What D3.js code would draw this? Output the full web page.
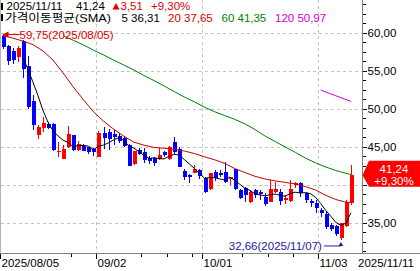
<!DOCTYPE html>
<html>
<head>
<meta charset="utf-8">
<script src="https://cdn.jsdelivr.net/npm/d3@7"></script>
<style>
body { margin: 0; background: #fff; }
svg { display: block; font-family: 'Liberation Sans', 'Noto Sans CJK KR', sans-serif; font-size: 11.5px; }
</style>
</head>
<body>
<svg id="chart" width="420" height="271"></svg>
<script>
// trading days shown (MM/DD, year 2025)
var year = '2025';
var dates = ['08/05','08/06','08/07','08/08','08/11','08/12','08/13','08/14','08/15','08/18','08/19','08/20','08/21','08/22','08/25','08/26','08/27','08/28','08/29',
	'09/02','09/03','09/04','09/05','09/08','09/09','09/10','09/11','09/12','09/15','09/16','09/17','09/18','09/19','09/22','09/23','09/24','09/25','09/26','09/29','09/30',
	'10/01','10/02','10/03','10/06','10/07','10/08','10/09','10/10','10/13','10/14','10/15','10/16','10/17','10/20','10/21','10/22','10/23','10/24','10/27','10/28','10/29','10/30','10/31',
	'11/03','11/04','11/05','11/06','11/07','11/10','11/11'];

var openP = [59.6,58.2,57.6,56.8,58.95,55.6,51.05,46.5,47.45,47.99,47.99,44.3,43.4,44.9,46.5,44.53,45.05,44.9,44.65,
	43.68,46.84,46.97,46.67,46.4,46.1,45.2,42.72,44.57,44.34,43.47,43.55,43.34,44.34,43.34,45.66,44.66,41.84,41.27,41.58,41.9,
	40.84,39.4,41.7,41.58,41.7,40.7,42.03,39.3,39.52,37.76,39.3,39.1,38.4,37.76,39.1,39.08,38.0,37.9,39.96,40.2,38.95,37.9,37.6,
	36.67,36.14,34.7,34.57,32.95,34.57,37.55];
var highP = [59.75,58.4,58.0,58.2,59.1,56.9,51.8,47.9,48.87,48.2,48.1,45.6,45.2,47.7,46.6,45.7,45.3,45.0,44.8,
	47.1,47.63,47.3,47.25,46.8,46.4,45.35,44.45,44.8,44.78,43.8,43.7,44.8,44.4,45.1,46.3,45.0,42.1,41.4,42.6,42.1,
	40.97,41.6,41.9,41.9,43.03,41.0,42.05,39.5,39.74,39.3,39.5,39.3,38.9,40.6,40.4,39.5,38.6,40.6,40.4,40.3,39.1,38.1,37.97,
	36.9,36.5,34.9,34.7,35.0,38.0,42.6];
var lowP = [57.85,55.7,55.9,56.1,54.0,50.0,47.2,45.95,47.0,47.35,44.4,43.6,43.4,44.8,44.5,44.45,44.4,44.1,43.75,
	43.6,44.65,44.57,45.2,45.5,45.0,42.4,42.6,43.9,42.9,42.7,42.5,43.3,43.7,43.25,44.1,42.3,40.6,40.26,41.5,40.8,
	38.87,39.3,40.5,41.0,40.26,40.0,39.3,38.1,37.76,37.55,38.2,38.0,37.2,37.7,38.9,37.3,37.4,37.76,39.6,38.4,37.55,37.1,36.3,
	35.7,34.2,33.95,33.3,32.66,34.5,37.3];
var closeP = [58.08,56.3,56.45,58.0,55.26,50.2,47.8,47.55,48.1,47.45,44.57,44.4,44.7,46.67,44.6,45.35,44.47,44.3,44.34,
	46.84,46.1,45.97,46.24,45.8,45.1,42.46,44.43,44.04,43.25,43.15,42.8,43.9,43.9,45.0,44.34,42.37,40.97,40.97,42.03,41.14,
	39.08,41.5,40.84,41.27,40.4,40.97,39.4,38.2,38.64,39.08,38.6,38.8,37.5,39.5,39.4,37.8,38.2,39.4,40.26,38.9,38.0,37.55,36.9,
	36.3,34.38,34.15,33.45,34.98,37.73,41.24];

// moving averages (20/60/120 need history before 08/05)
var sma20 = [['08/05',59.63],['08/07',59.3],['08/11',58.9],['08/13',58.45],['08/15',57.6],['08/19',56.4],['08/21',54.7],['08/25',52.86],
	['08/27',51.2],['08/29',49.6],['09/03',48.36],['09/05',47.3],['09/09',46.4],['09/11',45.6],['09/15',45.2],['09/17',44.9],['09/19',44.8],
	['09/23',44.65],['09/25',44.43],['09/29',44.1],['10/01',43.67],['10/03',43.28],['10/07',42.8],['10/09',42.12],['10/13',41.6],['10/15',41.1],
	['10/17',40.75],['10/21',40.5],['10/23',40.3],['10/27',40.1],['10/29',39.75],['10/31',39.3],['11/04',38.6],['11/06',38.05],['11/10',37.7],['11/11',37.65]];
var sma60 = [['08/21',59.6],['08/25',59.0],['08/27',58.4],['08/29',57.7],['09/03',57.07],['09/05',56.4],['09/09',55.75],['09/11',55.1],
	['09/15',54.37],['09/17',53.7],['09/19',53.0],['09/23',52.26],['09/25',51.54],['09/29',50.9],['10/01',50.2],['10/03',49.6],['10/07',49.1],
	['10/09',48.6],['10/13',48.0],['10/15',47.26],['10/17',46.4],['10/21',45.68],['10/23',44.96],['10/27',44.24],['10/29',43.5],['10/31',42.86],
	['11/04',42.33],['11/06',41.87],['11/10',41.5],['11/11',41.35]];
var sma120 = [['11/03',52.45],['11/04',52.2],['11/05',51.95],['11/06',51.7],['11/07',51.45],['11/10',51.2],['11/11',50.97]];

var maPeriods = [5, 20, 60, 120];
var maLast = [36.31, 37.65, 41.35, 50.97];
var lastChange = 3.51, lastChangePct = 9.30;
var highValue = 59.75, highDate = '08/05';
var lowValue = 32.66, lowDate = '11/07';

var priceTicks = [35, 40, 45, 50, 55, 60];
var monthTicks = ['08/05', '09/02', '10/01', '11/03'];
var weekTicks = ['08/25', '09/15', '09/22', '09/29', '10/13', '10/20', '10/27'];

(function() {
	'use strict';

	var svg = d3.select('#chart'),
		plotRight = 362,
		plotBottom = 253,
		upColor = '#ff0000',
		downColor = '#0000ff',
		maColors = ['#000000', '#c80000', '#008000', '#d000d0'],
		n = dates.length;

	var x = d3.scaleBand().domain(dates).range([0, 353.5]);
	var cx = function(d) { return x(d) + x.bandwidth() / 2; };
	var y = d3.scaleLinear().domain([35, 60]).range([222.7, 32.7]);
	var fmt = function(v) { return d3.format('.2f')(v).replace('.', ','); };
	var crisp = function(v) { return Math.round(v) + 0.5; };

	var lastClose = closeP[n - 1], yc = y(lastClose),
		boxTop = yc - 14.5, boxBottom = yc + 11.5;

	// grid
	var grid = svg.append('g')
		.attr('stroke', '#c4c4c4')
		.attr('stroke-dasharray', '3,3')
		.attr('shape-rendering', 'crispEdges');
	grid.selectAll('.hg').data(priceTicks).enter().append('line')
		.attr('x1', 1).attr('x2', plotRight)
		.attr('y1', function(d) { return crisp(y(d)); })
		.attr('y2', function(d) { return crisp(y(d)); });
	grid.selectAll('.vg').data(monthTicks.slice(1)).enter().append('line')
		.attr('x1', function(d) { return crisp(x(d)); })
		.attr('x2', function(d) { return crisp(x(d)); })
		.attr('y1', 0).attr('y2', plotBottom);

	// candles
	var idx = d3.range(n);
	var colorOf = function(i) { return closeP[i] >= openP[i] ? upColor : downColor; };
	var candle = svg.append('g').attr('shape-rendering', 'crispEdges')
		.selectAll('g').data(idx).enter().append('g');
	candle.append('line')
		.attr('x1', function(i) { return Math.round(cx(dates[i])) + 0.5; })
		.attr('x2', function(i) { return Math.round(cx(dates[i])) + 0.5; })
		.attr('y1', function(i) { return y(highP[i]); })
		.attr('y2', function(i) { return y(lowP[i]); })
		.attr('stroke', colorOf);
	candle.append('rect')
		.attr('x', function(i) { return Math.round(cx(dates[i])) - 1.5; })
		.attr('width', 4)
		.attr('y', function(i) { return y(Math.max(openP[i], closeP[i])); })
		.attr('height', function(i) { return Math.max(1, Math.abs(y(openP[i]) - y(closeP[i]))); })
		.attr('fill', colorOf);

	// moving averages
	var sma5 = idx.filter(function(i) { return i >= 4; }).map(function(i) {
		return [dates[i], d3.mean(closeP.slice(i - 4, i + 1))];
	});
	var line = d3.line()
		.x(function(d) { return cx(d[0]); })
		.y(function(d) { return y(d[1]); });
	svg.append('g').attr('fill', 'none').attr('stroke-width', 1)
		.selectAll('path').data([sma5, sma20, sma60, sma120]).enter().append('path')
		.attr('d', line)
		.attr('stroke', function(d, i) { return maColors[i]; });

	// high / low markers
	var hx = cx(highDate), hy = y(highValue);
	svg.append('path')
		.attr('d', 'M' + hx + ',' + hy + 'l6,-3v6z')
		.attr('fill', '#e00000');
	svg.append('line')
		.attr('x1', hx + 5).attr('x2', hx + 17)
		.attr('y1', hy).attr('y2', hy)
		.attr('stroke', '#e00000');
	svg.append('text')
		.attr('x', hx + 17).attr('y', hy + 4)
		.attr('fill', '#e00000')
		.text(fmt(highValue) + '(' + year + '/' + highDate + ')');

	var lx = cx(lowDate), ly = y(lowValue);
	svg.append('path')
		.attr('d', 'M' + lx + ',' + (ly + 1.5) + 'l2.5,4h-5z')
		.attr('fill', '#2020a0');
	svg.append('line')
		.attr('x1', lx - 17).attr('x2', lx)
		.attr('y1', ly + 5.5).attr('y2', ly + 5.5)
		.attr('stroke', '#2020a0');
	svg.append('text')
		.attr('x', lx - 19).attr('y', ly + 10)
		.attr('text-anchor', 'end')
		.attr('fill', '#2020a0')
		.text(fmt(lowValue) + '(' + year + '/' + lowDate + ')');

	// frame
	var frame = svg.append('g').attr('shape-rendering', 'crispEdges');
	frame.append('line').attr('x1', 0.5).attr('x2', 0.5).attr('y1', 0).attr('y2', plotBottom).attr('stroke', '#b4b4b4');
	frame.append('line').attr('x1', plotRight + 0.5).attr('x2', plotRight + 0.5).attr('y1', 0).attr('y2', plotBottom).attr('stroke', '#808080');
	frame.append('line').attr('x1', 0).attr('x2', 420).attr('y1', plotBottom + 0.5).attr('y2', plotBottom + 0.5).attr('stroke', '#808080');

	// right price axis (labels under the last-price box are covered, so skip them)
	var minorTicks = d3.range(31.25, 64, 1.25).filter(function(v) { return v % 5 !== 0; });
	var underBox = function(v) { return y(v) > boxTop - 4 && y(v) < boxBottom + 4; };
	var yMinor = svg.append('g')
		.attr('transform', 'translate(' + (plotRight + 0.5) + ',0)')
		.call(d3.axisRight(y).tickValues(minorTicks).tickSize(3).tickSizeOuter(0).tickFormat(''));
	var yAxis = svg.append('g')
		.attr('transform', 'translate(' + (plotRight + 0.5) + ',0)')
		.call(d3.axisRight(y).tickValues(priceTicks).tickSize(4).tickPadding(1).tickSizeOuter(0)
			.tickFormat(function(v) { return underBox(v) ? '' : fmt(v); }));
	[yMinor, yAxis].forEach(function(g) {
		g.select('.domain').remove();
		g.attr('font-family', null).attr('font-size', null);
		g.selectAll('line').attr('stroke', '#000').attr('shape-rendering', 'crispEdges');
		g.selectAll('text').attr('fill', '#000');
	});

	// bottom date axis
	var xAxis = svg.append('g').attr('shape-rendering', 'crispEdges');
	xAxis.selectAll('.wt').data(weekTicks).enter().append('line')
		.attr('x1', function(d) { return crisp(x(d)); })
		.attr('x2', function(d) { return crisp(x(d)); })
		.attr('y1', plotBottom + 1).attr('y2', plotBottom + 4)
		.attr('stroke', '#000');
	xAxis.selectAll('.mt').data(monthTicks).enter().append('line')
		.attr('x1', function(d) { return crisp(x(d)); })
		.attr('x2', function(d) { return crisp(x(d)); })
		.attr('y1', plotBottom + 1).attr('y2', plotBottom + 6)
		.attr('stroke', '#000');
	xAxis.selectAll('text').data(monthTicks).enter().append('text')
		.attr('x', function(d) { return Math.round(x(d)) + 1.5; })
		.attr('y', plotBottom + 14)
		.text(function(d, i) { return i === 0 ? year + '/' + d : d; });
	svg.append('text')
		.attr('x', 358).attr('y', plotBottom + 14)
		.text(year + '/' + dates[n - 1]);

	// last price box
	svg.append('path')
		.attr('d', 'M' + (plotRight + 0.5) + ',' + yc + 'L369,' + boxTop + 'H420V' + boxBottom + 'H369Z')
		.attr('fill', upColor);
	svg.append('text')
		.attr('x', 394).attr('y', yc - 2)
		.attr('text-anchor', 'middle').attr('fill', '#fff')
		.text(fmt(lastClose));
	svg.append('text')
		.attr('x', 394).attr('y', yc + 10)
		.attr('text-anchor', 'middle').attr('fill', '#fff')
		.text('+' + fmt(lastChangePct) + '%');

	// header
	var head = svg.append('g');
	head.append('rect').attr('x', 1).attr('y', 3).attr('width', 2).attr('height', 7).attr('fill', '#000');
	head.append('rect').attr('x', 1).attr('y', 14).attr('width', 2).attr('height', 7).attr('fill', '#000');
	head.append('text').attr('x', 6.5).attr('y', 10).text(year + '/' + dates[n - 1]);
	head.append('text').attr('x', 76).attr('y', 10).text(fmt(lastClose));
	head.append('path').attr('d', 'M112.5,9.5L116,3L119.5,9.5Z').attr('fill', '#e00000');
	head.append('text').attr('x', 120.5).attr('y', 10).attr('fill', '#e00000').text(fmt(lastChange));
	head.append('text').attr('x', 151).attr('y', 10).attr('fill', '#e00000').text('+' + fmt(lastChangePct) + '%');

	head.append('text').attr('x', 5).attr('y', 21.5)
		.attr('textLength', 106).attr('lengthAdjust', 'spacingAndGlyphs')
		.text('가격이동평균(SMA)');
	var maX = [121.5, 168, 221.5, 275];
	head.selectAll('.ma').data(maPeriods).enter().append('text')
		.attr('x', function(d, i) { return maX[i]; })
		.attr('y', 21.5)
		.attr('fill', function(d, i) { return i === 1 ? '#d00000' : maColors[i]; })
		.text(function(d, i) { return d + ' ' + fmt(maLast[i]); });
})();
</script>
</body>
</html>
